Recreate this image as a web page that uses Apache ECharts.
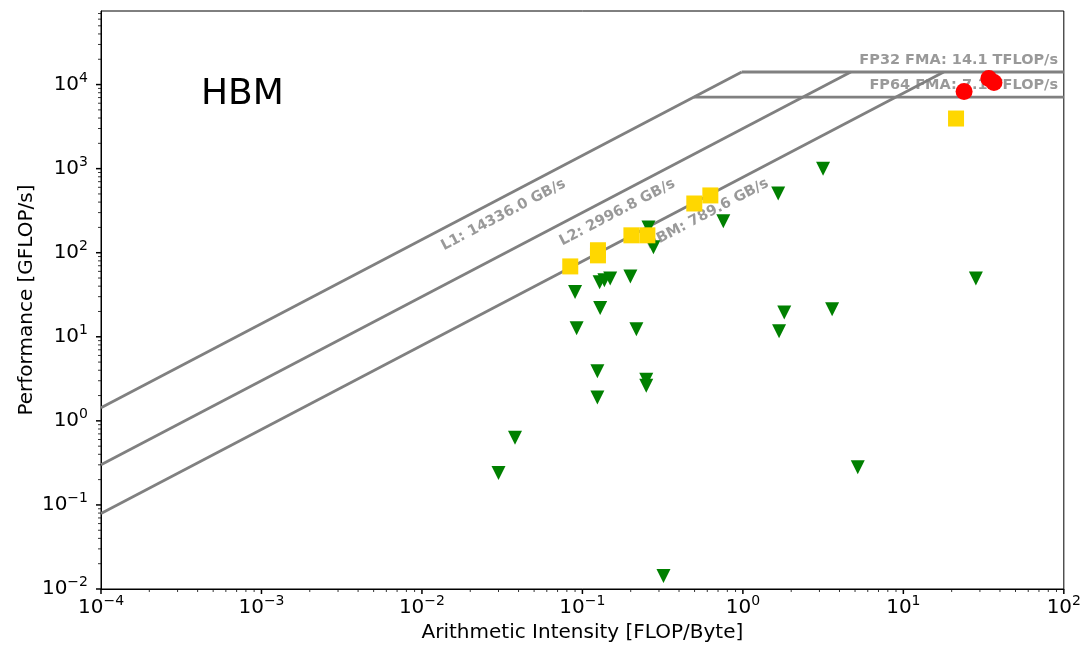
<!DOCTYPE html>
<html>
<head>
<meta charset="utf-8">
<script src="https://cdn.jsdelivr.net/npm/echarts@6/dist/echarts.min.js"></script>
<style>
html, body { margin: 0; padding: 0; background: #fff; }
#chart { width: 1084px; height: 648px; }
</style>
</head>
<body>
<div id="chart"></div>
<script>
// roofline ceilings
const memRoofNames = ['L1', 'L2', 'HBM'];
const memRoofBandwidth = [14336.0, 2996.8, 789.6];   // GB/s
const computeRoofNames = ['FP32 FMA', 'FP64 FMA'];
const computeRoofPeak = [14100, 7100];                // GFLOP/s

// axis range + tick labels
const xRange = [1e-4, 1e2];
const yRange = [1e-2, 7.5e4];
const xTickValues = [1e-4, 1e-3, 1e-2, 1e-1, 1e0, 1e1, 1e2];
const yTickValues = [1e-2, 1e-1, 1e0, 1e1, 1e2, 1e3, 1e4];

// measured kernels [AI, GFLOP/s]
const greenPoints = [
	[3.16, 1000], [1.66, 505], [0.755, 236], [0.258, 200], [0.277, 116],
	[0.202, 161], [0.199, 52], [0.128, 44.4], [0.137, 46.9], [0.149, 49.5],
	[0.090, 34], [0.129, 22], [0.092, 12.6], [0.217, 12.3], [1.81, 19.5],
	[1.68, 11.6], [3.6, 21.2], [28.3, 49.5], [0.124, 3.9], [0.25, 3.08],
	[0.25, 2.62], [0.124, 1.9], [0.038, 0.63], [0.030, 0.24], [5.2, 0.28],
	[0.32, 0.0143]
];
const goldPoints = [
	[21.3, 3945], [0.498, 385], [0.627, 480], [0.202, 161], [0.254, 161],
	[0.125, 107], [0.125, 93], [0.084, 68.7]
];
const redPoints = [
	[23.9, 8260], [34.1, 11780], [36.7, 10560]
];

const FONT = 'DejaVu Sans';
const ROOF_GRAY = '#808080';

function supLabel(v)
{
	let e = Math.round(Math.log10(v));
	return '{b|10}{s|' + String(e).replace('-', '\u2212') + '}';
}

// roof line segments
let roofSeries = [];
let maxPeak = Math.max(...computeRoofPeak);
let maxBw = Math.max(...memRoofBandwidth);
memRoofBandwidth.forEach((bw, i) =>
{
	roofSeries.push({
		name: memRoofNames[i],
		type: 'line',
		data: [[xRange[0], bw * xRange[0]], [maxPeak / bw, maxPeak]],
		showSymbol: false,
		silent: true,
		lineStyle: { color: ROOF_GRAY, width: 2.8 },
		z: 1
	});
});
computeRoofPeak.forEach((p, i) =>
{
	roofSeries.push({
		name: computeRoofNames[i],
		type: 'line',
		data: [[p / maxBw, p], [xRange[1], p]],
		showSymbol: false,
		silent: true,
		lineStyle: { color: ROOF_GRAY, width: 2.8 },
		z: 1
	});
});

// roof text
const memLabelX = [0.0322, 0.165, 0.600];
const roofText = {
	type: 'scatter',
	symbolSize: 0,
	silent: true,
	z: 2,
	label: {
		show: true,
		position: 'inside',
		color: ROOF_GRAY,
		fontWeight: 'bold',
		fontSize: 14.5,
		fontFamily: FONT,
		formatter: (p) => p.data.text
	},
	data: []
};
memRoofBandwidth.forEach((bw, i) =>
{
	roofText.data.push({
		value: [memLabelX[i], bw * memLabelX[i] / 1.64],
		text: memRoofNames[i] + ': ' + bw.toFixed(1) + ' GB/s',
		label: { rotate: 27.6, align: 'center', verticalAlign: 'middle' }
	});
});
computeRoofPeak.forEach((p, i) =>
{
	roofText.data.push({
		value: [92, p * 1.39],
		text: computeRoofNames[i] + ': ' + (p / 1000).toFixed(1) + ' TFLOP/s',
		label: { align: 'right', verticalAlign: 'middle' }
	});
});

// ticks drawn via custom series (matplotlib-like minor ticks)
let xTicks = [], yTicks = [];
xTickValues.forEach((v) => xTicks.push([v, yRange[0], 1]));
yTickValues.forEach((v) => yTicks.push([xRange[0], v, 1]));
for (let d = -4; d < 2; d++)
	for (let m = 2; m < 10; m++) xTicks.push([m * Math.pow(10, d), yRange[0], 0]);
for (let d = -2; d < 5; d++)
	for (let m = 2; m < 10; m++)
		if (m * Math.pow(10, d) < yRange[1]) yTicks.push([xRange[0], m * Math.pow(10, d), 0]);

function tickSeries(data, vertical)
{
	return {
		type: 'custom',
		silent: true,
		z: 5,
		data: data,
		renderItem: (params, api) =>
		{
			let p = api.coord([api.value(0), api.value(1)]);
			let major = api.value(2) === 1;
			let len = major ? 5 : 3;
			let shape = vertical
				? { x1: p[0], y1: p[1], x2: p[0], y2: p[1] + len }
				: { x1: p[0], y1: p[1], x2: p[0] - len, y2: p[1] };
			return { type: 'line', shape: shape, style: { stroke: '#000', lineWidth: major ? 1.5 : 0.8 } };
		}
	};
}

const richLabel = {
	b: { fontSize: 20, fontFamily: FONT, color: '#000' },
	s: { fontSize: 14, fontFamily: FONT, color: '#000', padding: [0, 0, 13, 0] }
};

let chart = echarts.init(document.getElementById('chart'));
let option = {
	animation: false,
	backgroundColor: '#fff',
	title: {
		text: 'HBM',
		left: 196,
		top: 72,
		textStyle: { fontSize: 36, fontWeight: 'normal', fontFamily: FONT, color: '#000' }
	},
	grid: {
		left: 101, right: 19, top: 11, bottom: 58,
		show: true, borderColor: '#000', borderWidth: 1
	},
	xAxis: {
		type: 'log',
		min: xRange[0],
		max: xRange[1],
		name: 'Arithmetic Intensity [FLOP/Byte]',
		nameLocation: 'middle',
		nameGap: 34,
		nameTextStyle: { fontSize: 20, fontFamily: FONT, color: '#000' },
		axisLine: { lineStyle: { color: '#000', width: 1 } },
		axisTick: { show: false },
		splitLine: { show: false },
		axisLabel: { margin: 5, formatter: supLabel, rich: richLabel }
	},
	yAxis: {
		type: 'log',
		min: yRange[0],
		max: yRange[1],
		name: 'Performance [GFLOP/s]',
		nameLocation: 'middle',
		nameGap: 64,
		nameMoveOverlap: false,
		nameTextStyle: { fontSize: 20, fontFamily: FONT, color: '#000' },
		axisLine: { lineStyle: { color: '#000', width: 1 } },
		axisTick: { show: false },
		splitLine: { show: false },
		axisLabel: { margin: 13, showMaxLabel: false, formatter: supLabel, rich: richLabel }
	},
	series: [
		...roofSeries,
		roofText,
		{
			name: 'green',
			type: 'scatter',
			data: greenPoints,
			symbol: 'triangle',
			symbolRotate: 180,
			symbolSize: 14,
			itemStyle: { color: '#008000', opacity: 1 },
			z: 3
		},
		{
			name: 'gold',
			type: 'scatter',
			data: goldPoints,
			symbol: 'rect',
			symbolSize: 16,
			itemStyle: { color: '#FFD700', opacity: 1 },
			z: 3
		},
		{
			name: 'red',
			type: 'scatter',
			data: redPoints,
			symbol: 'circle',
			symbolSize: 17,
			itemStyle: { color: '#FF0000', opacity: 1 },
			z: 4
		},
		tickSeries(xTicks, true),
		tickSeries(yTicks, false)
	]
};
chart.setOption(option);
</script>
</body>
</html>
